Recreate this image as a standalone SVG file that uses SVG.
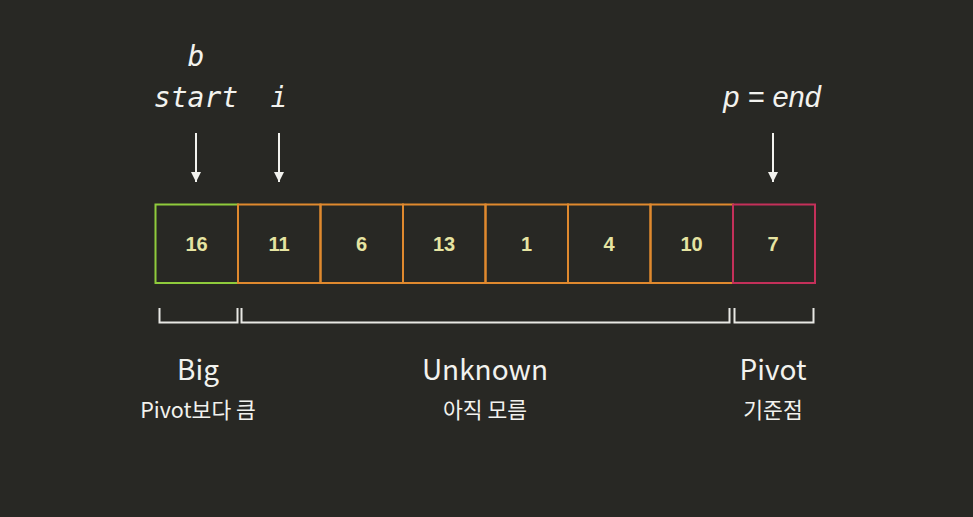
<svg xmlns="http://www.w3.org/2000/svg" width="973" height="517" viewBox="0 0 973 517">
<style>
.mono{font-family:"DejaVu Sans Mono","Liberation Mono",monospace;font-style:italic;font-size:28px;fill:#f2f2ee;text-anchor:middle}
.it{font-family:"Liberation Sans",Arial,sans-serif;font-style:italic;font-size:29px;fill:#f2f2ee;text-anchor:middle}
.num{font-family:"Liberation Sans",Arial,sans-serif;font-weight:bold;font-size:20px;fill:#e6e4a2;text-anchor:middle}
.lbl{font-family:"Noto Sans CJK KR","Noto Sans",sans-serif;font-size:28px;fill:#f2f2ee;text-anchor:middle}
.sub{font-family:"Noto Sans CJK KR","Noto Sans",sans-serif;font-size:21.5px;fill:#f2f2ee;text-anchor:middle}
.cell{fill:none;stroke-width:2}
.arr{stroke:#f2f2ee;stroke-width:2;fill:none}
.br{stroke:#e8e8e4;stroke-width:2;fill:none}
</style>
<defs>
<marker id="ah" markerWidth="10" markerHeight="10" refX="10" refY="5" orient="auto" markerUnits="userSpaceOnUse" viewBox="0 0 10 10">
<path d="M0,0 L10,5 L0,10 Z" fill="#f2f2ee"/>
</marker>
</defs>
<rect width="973" height="517" fill="#282824"/>
<g id="labels-top">
<text class="mono" x="196" y="66">b</text>
<text class="mono" x="196" y="107">start</text>
<text class="mono" x="279" y="107">i</text>
<text class="it" x="772" y="107">p = end</text>
</g>
<g id="connectors">
<path class="arr" d="M196,133 V182" marker-end="url(#ah)"/>
<path class="arr" d="M279,133 V182" marker-end="url(#ah)"/>
<path class="arr" d="M773,133 V182" marker-end="url(#ah)"/>
</g>
<g id="cells">
<g id="c0"><rect class="cell" x="155.5" y="204.5" width="82.5" height="78.5" stroke="#8fcb3c"/><text class="num" x="196.5" y="251">16</text></g>
<g id="c1"><rect class="cell" x="238" y="204.5" width="82.5" height="78.5" stroke="#e0892e"/><text class="num" x="279" y="251">11</text></g>
<g id="c2"><rect class="cell" x="320.5" y="204.5" width="82.5" height="78.5" stroke="#e0892e"/><text class="num" x="361.5" y="251">6</text></g>
<g id="c3"><rect class="cell" x="403" y="204.5" width="82.5" height="78.5" stroke="#e0892e"/><text class="num" x="444" y="251">13</text></g>
<g id="c4"><rect class="cell" x="485.5" y="204.5" width="82.5" height="78.5" stroke="#e0892e"/><text class="num" x="526.5" y="251">1</text></g>
<g id="c5"><rect class="cell" x="568" y="204.5" width="82.5" height="78.5" stroke="#e0892e"/><text class="num" x="609" y="251">4</text></g>
<g id="c6"><rect class="cell" x="650.5" y="204.5" width="82.5" height="78.5" stroke="#e0892e"/><text class="num" x="691.5" y="251">10</text></g>
<g id="c7"><rect class="cell" x="733" y="204.5" width="82" height="78.5" stroke="#c4305a"/><text class="num" x="773" y="251">7</text></g>
</g>
<g id="brackets">
<path class="br" d="M159.5,308 V322.5 H237.5 V308"/>
<path class="br" d="M241.5,308 V322.5 H729.5 V308"/>
<path class="br" d="M734.5,308 V322.5 H813.5 V308"/>
</g>
<g id="big"><text class="lbl" x="198" y="380">Big</text><text class="sub" x="198" y="418">Pivot보다 큼</text></g>
<g id="unknown"><text class="lbl" x="485" y="380">Unknown</text><text class="sub" x="485" y="418">아직 모름</text></g>
<g id="pivot"><text class="lbl" x="773" y="380">Pivot</text><text class="sub" x="773" y="418">기준점</text></g>
</svg>
